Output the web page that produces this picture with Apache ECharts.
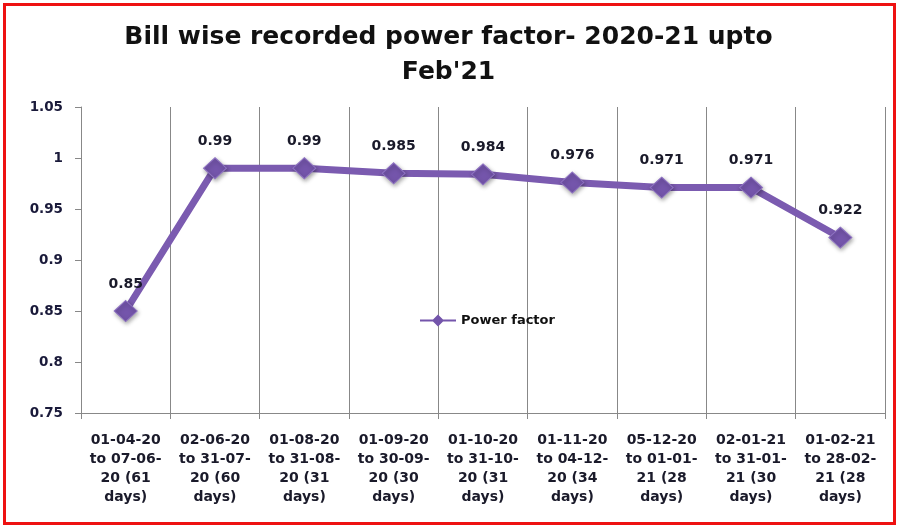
<!DOCTYPE html>
<html>
<head>
<meta charset="utf-8">
<script src="https://cdn.jsdelivr.net/npm/echarts@6/dist/echarts.min.js"></script>
<style>
  html, body { margin: 0; padding: 0; background: #fff; }
  #frame {
    position: absolute; left: 3px; top: 3px; width: 887px; height: 516px;
    border: 3px solid #ee1111; box-sizing: content-box;
  }
  #chart { position: absolute; left: 0; top: 0; width: 897px; height: 529px; }
</style>
</head>
<body>
<div id="chart"></div>
<div id="frame"></div>
<script>
// Billing periods (x-axis categories)
const periods = [
  '01-04-20\nto 07-06-\n20 (61\ndays)',
  '02-06-20\nto 31-07-\n20 (60\ndays)',
  '01-08-20\nto 31-08-\n20 (31\ndays)',
  '01-09-20\nto 30-09-\n20 (30\ndays)',
  '01-10-20\nto 31-10-\n20 (31\ndays)',
  '01-11-20\nto 04-12-\n20 (34\ndays)',
  '05-12-20\nto 01-01-\n21 (28\ndays)',
  '02-01-21\nto 31-01-\n21 (30\ndays)',
  '01-02-21\nto 28-02-\n21 (28\ndays)'
];

// Recorded power factor per bill
const powerFactor = [0.85, 0.99, 0.99, 0.985, 0.984, 0.976, 0.971, 0.971, 0.922];

const seriesName = 'Power factor';
const chartTitle = "Bill wise recorded power factor- 2020-21 upto\nFeb'21";

const yMin = 0.75, yMax = 1.05, yStep = 0.05;

// Legend key: short line with a diamond in the middle
const legendIcon = 'path://M0 5 L36 5 L36 7 L0 7 Z M12 6 L18 0 L24 6 L18 12 Z';

const chart = echarts.init(document.getElementById('chart'), null, { renderer: 'canvas' });

chart.setOption({
  backgroundColor: '#ffffff',
  animation: false,
  title: {
    text: chartTitle,
    left: 'center',
    top: 15,
    textStyle: {
      fontFamily: 'DejaVu Sans',
      fontWeight: 'bold',
      fontSize: 25,
      lineHeight: 35,
      color: '#111111'
    }
  },
  legend: {
    data: [{ name: seriesName, icon: legendIcon }],
    left: 415,
    top: 309,
    itemWidth: 36,
    itemHeight: 12,
    itemStyle: { color: '#7455ab', borderWidth: 0, shadowBlur: 0 },
    textStyle: {
      fontFamily: 'DejaVu Sans',
      fontWeight: 'bold',
      fontSize: 13,
      color: '#111111'
    }
  },
  grid: { left: 81, right: 12, top: 107, bottom: 116 },
  xAxis: {
    type: 'category',
    data: periods,
    boundaryGap: true,
    axisLine: { lineStyle: { color: '#888888', width: 1 } },
    axisTick: { show: true, alignWithLabel: false, length: 6, lineStyle: { color: '#888888' } },
    splitLine: { show: true, lineStyle: { color: '#888888', width: 1 } },
    axisLabel: {
      interval: 0,
      margin: 18,
      fontFamily: 'DejaVu Sans',
      fontWeight: 'bold',
      fontSize: 14,
      lineHeight: 19,
      color: '#1a1a2a'
    }
  },
  yAxis: {
    type: 'value',
    min: yMin,
    max: yMax,
    interval: yStep,
    axisLine: { show: true, lineStyle: { color: '#888888', width: 1 } },
    axisTick: { show: true, length: 6, lineStyle: { color: '#888888' } },
    splitLine: { show: false },
    axisLabel: {
      margin: 18,
      fontFamily: 'DejaVu Sans',
      fontWeight: 'bold',
      fontSize: 13.5,
      color: '#1a1a3a',
      formatter: v => String(Math.round(v * 1000) / 1000)
    }
  },
  series: [{
    name: seriesName,
    type: 'line',
    data: powerFactor,
    symbol: 'diamond',
    symbolSize: [23, 21],
    lineStyle: { color: '#7b5bb0', width: 7 },
    itemStyle: {
      color: '#7455ab',
      borderColor: '#8e72c2',
      borderWidth: 1,
      shadowColor: 'rgba(0,0,0,0.35)',
      shadowBlur: 4,
      shadowOffsetX: 1,
      shadowOffsetY: 2
    },
    label: {
      show: true,
      position: 'top',
      distance: 9,
      fontFamily: 'DejaVu Sans',
      fontWeight: 'bold',
      fontSize: 14,
      color: '#1a1a2a',
      formatter: p => String(p.value)
    }
  }]
});
</script>
</body>
</html>
